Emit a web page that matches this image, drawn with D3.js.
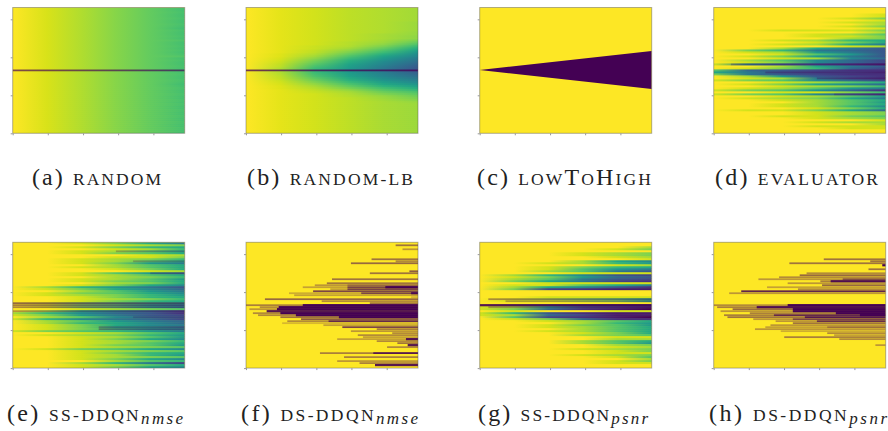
<!DOCTYPE html>
<html lang="en">
<head>
<meta charset="UTF-8">
<script src="https://d3js.org/d3.v7.min.js"></script>
<title>Acquisition policies</title>
<style>
    html, body { margin: 0; padding: 0; background: #fff; }
    svg { display: block; }
    text { font-family: "Liberation Serif", serif; fill: #222; }
</style>
</head>
<body>
<div id="chart"></div>
<script>
// colour level at the columns in columnSteps, 0 dark .. 1 yellow
const columnSteps = [0, 0.2, 0.4, 0.6, 0.8, 1];

// level at the last column of each row of panel a, the earlier columns are in aStart
const aStart = [1, .94, .88, .82, .76];
const aEnd = [
    .70,.70,.71,.70,.70,.71,.70,.70,.71,.70,.69,.71,.70,.70,.71,.70,.72,.70,.70,.71,.70,
    .71,.70,.71,.73,.70,.71,.70,.70,.71,.70,.70,.70,.71,.70,.70,.71,.70,.69,.70,.71,.70,
    .70,.71,.70,.70,.71,.70,.71,.70,.70,.71,.70,.70,.71,.70,.70,.71,.70,.70,.71,.70,.70
];
const aRows = aEnd.map(e => aStart.concat(e));

const bRows = [
    [1,.96,.93,.90,.88,.86],[1,.96,.93,.90,.88,.86],[1,.96,.93,.90,.88,.86],
    [1,.96,.93,.90,.88,.86],[1,.96,.93,.90,.88,.86],[1,.96,.93,.90,.88,.86],
    [1,.96,.93,.90,.88,.86],[1,.96,.93,.90,.88,.85],[1,.96,.93,.90,.88,.85],
    [1,.96,.93,.90,.88,.85],[1,.96,.93,.90,.88,.85],[1,.96,.93,.90,.88,.85],
    [1,.96,.93,.90,.88,.84],[1,.96,.93,.90,.87,.84],[1,.96,.93,.90,.87,.83],
    [1,.96,.93,.90,.87,.83],[1,.96,.93,.90,.86,.80],[1,.96,.93,.89,.85,.76],
    [1,.96,.93,.89,.83,.72],[1,.96,.92,.88,.80,.67],[1,.96,.92,.86,.76,.62],
    [1,.96,.91,.83,.72,.57],[1,.96,.90,.80,.68,.52],[1,.95,.88,.76,.63,.48],
    [1,.95,.86,.72,.58,.45],[1,.94,.83,.68,.54,.41],[1,.93,.80,.64,.50,.38],
    [1,.92,.77,.61,.47,.35],[1,.91,.74,.58,.45,.32],[1,.90,.71,.56,.42,.29],
    [1,.88,.68,.54,.40,.27],[1,.88,.67,.53,.40,.26],[1,.88,.68,.54,.42,.30],
    [1,.89,.70,.56,.44,.33],[1,.90,.72,.58,.46,.36],[1,.91,.75,.61,.49,.40],
    [1,.92,.78,.64,.52,.43],[1,.93,.81,.68,.56,.47],[1,.94,.84,.72,.60,.52],
    [1,.95,.87,.76,.65,.57],[1,.95,.89,.80,.70,.62],[1,.96,.91,.84,.74,.67],
    [1,.96,.92,.87,.78,.72],[1,.96,.93,.88,.81,.75],[1,.96,.93,.89,.84,.78],
    [1,.96,.93,.90,.85,.80],[1,.96,.93,.90,.86,.82],[1,.96,.93,.90,.87,.84],
    [1,.96,.93,.90,.87,.85],[1,.96,.93,.90,.87,.85],[1,.96,.93,.90,.87,.85],
    [1,.96,.93,.90,.87,.85],[1,.96,.93,.90,.87,.85],[1,.96,.93,.90,.87,.85],
    [1,.96,.93,.90,.87,.85],[1,.96,.93,.90,.87,.85],[1,.96,.93,.90,.87,.85],
    [1,.96,.93,.90,.87,.85],[1,.96,.93,.90,.87,.85],[1,.96,.93,.90,.87,.85],
    [1,.96,.93,.90,.87,.85],[1,.96,.93,.90,.87,.85],[1,.96,.93,.90,.87,.85]
];
// strings: one hex digit per column (0 dark .. f yellow)
const dRows = [
    "ffffff","ffffff","ffffff","fffffe","fffffe","ffffec","fffffe","ffffed","fffffd",
    "ffffec","fffffe","ffeeec","fffffd","fffedb","fffeec","ffffdc","ffeda9","fffec9",
    "ffed96","ffffed","ffd964","fca654","fed864","ffeb84","fec864","ffed75","fdb753",
    "fec753","e74321","ffd964","feca53","b54322","964332","c64322","fd8432","fed632",
    "ecb753","ffedb9","fec975","ffedca","fedb86","ecb852","ffeeca","ecb742","ffedb8",
    "fedc96","ffedb9","fffdb8","ffedb9","ffeda7","fffec9","feec95","fffedc","fffedc",
    "ffeecb","fffedc","fffffe","fffedd","fffffd","fffeee","ffffee","ffffff","ffffff"
];
const eRows = [
    "ffec96","fffedc","ffeca9","fffeda","ffedb9","ffecb9","ffffed","fffeec","ffedca",
    "ffedb9","ffec86","fffdb9","ffedb9","fffec9","ffffed","ffeb85","ffedb9","fffdca",
    "ffedb8","ffecb9","fffdc9","ffec97","fda864","fec975","ffdb86","fecb97","fedca8",
    "ffeca9","ffedca","ffeca9","fecba9","fecb97","fecb97","ffedcb","fd9753","da7542",
    "ec8643","fdb754","ea7653","fdb865","fda975","fec976","fec986","feca87","ecba86",
    "ffedb9","fedca8","ffedb8","ffec97","ffedca","ffedb9","ffecb8","ffedcb","fecb97",
    "ffedcb","ffeca9","ffeda8","ffedcb","ffec97","fffdba","ffda63","ffedb9","ffec97"
];
const gRows = [
    "ffffff","ffffff","fffffd","ffffec","ffffff","fffedc","fffedc","ffffed","fffffe",
    "fffd97","ffeda8","ffffed","ffeca9","ffeb86","ffdb64","fffeee","fda743","fec854",
    "fdb643","fc9632","ffeeee","feeb96","fd9742","fc3211","ffffff","ffffff","ffffff",
    "ffeeee","fedcb9","feedc9","ffffff","fdb864","ed8321","ec5210","feffee","ea4211",
    "ed5311","fb3210","fec522","ffedb9","fffda8","ffecb8","ffedb9","fffdb9","ffedb9",
    "fffec9","fffdcb","ffffee","ffffdd","fffdb9","fffdb8","ffffdc","ffffed","fffedc",
    "ffffec","ffffee","fffedc","ffffeb","fffffd","ffffec","ffffee","ffffff","ffffff"
];

// [row, start step, strength] of the dark overlay, runs to the end of the row
const aLines = [[31, 0, 0.68]];
const bLines = [[31, 0, 0.75]];
const dLines = [[28, 0.1, 0.3], [32, 0.3, 0.3], [35, 0.6, 0.3], [43, 0.7, 0.25]];
const eLines = [[30, 0, 0.55], [31, 0, 0.45], [32, 0, 0.4], [34, 0, 0.35], [4, 0.6, 0.25],
    [42, 0.5, 0.3], [43, 0.5, 0.35], [9, 0.7, 0.25], [15, 0.8, 0.25], [37, 0.7, 0.2]];
const gLines = [[28, 0.05, 0.4], [29, 0.15, 0.3], [31, 0, 0.9], [32, 0.05, 0.3]];
const fLines = [
    [1,.87,.5],[3,.91,.35],[8,.73,.5],[10,.61,.55],[9,.87,.4],[14,.95,.6],[15,.72,.5],[18,.5,.5],
    [20,.47,.5],[21,.4,.35],[21,.59,.3],[22,.33,.3],[22,.59,.6],[22,.81,1],[23,.49,.3],[23,.59,.6],
    [24,.39,.7],[25,.25,.25],[25,.67,.6],[25,.96,.9],[26,.28,.3],[27,.96,.2],[28,.11,.55],[29,.44,.4],
    [30,.72,.5],[31,0,.45],[31,.33,1],[32,.08,.4],[32,.19,1],[33,.02,.35],[33,.18,1],[34,.12,.9],
    [35,.04,.4],[35,.2,1],[36,.07,.4],[36,.29,1],[37,.2,.5],[37,.54,1],[38,.32,.6],[39,.24,.4],
    [39,.48,.7],[40,.21,.2],[41,.45,.3],[42,.56,.7],[43,.76,.45],[44,.61,.35],[45,.85,.4],[46,.65,.4],
    [47,.68,.3],[48,.53,.3],[48,.93,.9],[49,.76,.4],[50,.88,.5],[51,.94,.9],[52,.82,.4],[55,.43,.45],
    [55,.74,.8],[57,.57,.45],[59,.53,.35],[60,.66,.45],[61,.75,.9]
];
const hLines = [
    [8,.64,.5],[9,.91,.5],[10,.44,.5],[11,.98,1],[13,.9,.5],[15,.54,.4],[16,.5,.55],[17,.38,.4],
    [18,.26,.35],[18,.75,.5],[19,.62,.45],[19,.68,.9],[20,.43,.35],[21,.63,.55],[22,.31,.3],[23,.49,.4],
    [24,.16,.85],[25,.09,.35],[31,0,.4],[31,.43,1],[32,.02,.45],[32,.25,.9],[33,.11,.55],[33,.46,1],
    [34,.04,.35],[34,.46,1],[35,.21,.45],[35,.71,1],[36,.06,.45],[36,.35,.7],[36,.85,1],[37,.08,.5],
    [37,.53,.8],[38,.23,.35],[38,.46,.55],[39,.36,.35],[39,.6,.7],[40,.46,.5],[41,.33,.35],[42,.3,.3],
    [42,.66,.3],[43,.24,.35],[44,.39,.25],[45,.66,.4],[46,.7,.3],[47,.41,.45],[48,.73,.4],[51,.94,.35]
];

// lowToHigh wedge: row of its edges at the first and last step
const wedgeSteps = [0, 1];
const wedgeTop = [31.3, 21.8];
const wedgeBottom = [31.3, 40.8];

const panelRows = [aRows, bRows, null, dRows, eRows, null, gRows, null];
const panelLines = [aLines, bLines, [], dLines, eLines, fLines, gLines, hLines];

const captionTags = ["(a)", "(b)", "(c)", "(d)", "(e)", "(f)", "(g)", "(h)"];
const captionNames = ["RANDOM", "RANDOM-LB", "LOWTOHIGH", "EVALUATOR", "SS-DDQN", "DS-DDQN", "SS-DDQN", "DS-DDQN"];
const captionSubs = ["", "", "", "", "nmse", "nmse", "psnr", "psnr"];

const xTicks = [0, 0.204, 0.409, 0.613, 0.818];
const yTicks = [0, 0.302, 0.604, 0.906];

const width = 888, height = 431;
const panelLeft = [12.7, 246, 479.7, 713.7];
const panelTop = [7.5, 242.3];
const panelW = 172, panelH = 125.8;
const captionLeft = [32, 247, 477, 715, 7, 241, 478, 709];
const captionRight = [161, 413, 651, 878, 183, 418, 648, 887];
const captionBase = [185, 421];
const rowCount = 63;
const tagSize = 24, capSize = 17.5, subSize = 17;
const thinLine = 1.75; // weak overlays are a bit thinner than a full row

const svg = d3.select("#chart").append("svg")
    .attr("width", width).attr("height", height);
const defs = svg.append("defs");
defs.append("filter").attr("id", "soft")
    .attr("x", "-2%").attr("y", "-2%").attr("width", "104%").attr("height", "104%")
    .attr("color-interpolation-filters", "sRGB")
    .append("feGaussianBlur").attr("stdDeviation", "0.3 0.55");

const x = d3.scaleLinear().domain([0, 1]).range([0, panelW]);
const y = d3.scaleLinear().domain([0, 1]).range([panelH, 0]);
const rowY = d3.scaleLinear().domain([0, rowCount]).range([0, panelH]);
const rowLevels = row => typeof row === "string"
    ? row.split("").map(d => parseInt(d, 16) / 15) : row;
const YELLOW = d3.interpolateViridis(1), PURPLE = d3.interpolateViridis(0);

captionTags.forEach((tag, i) => {
    const col = i % 4, line = Math.floor(i / 4);
    const g = svg.append("g")
        .attr("transform", `translate(${panelLeft[col]},${panelTop[line]})`);

    defs.append("clipPath").attr("id", "clip" + i)
        .append("rect").attr("width", panelW).attr("height", panelH);

    const map = g.append("g").attr("clip-path", `url(#clip${i})`)
        .append("g").attr("filter", "url(#soft)");

    map.append("rect").attr("x", -2).attr("y", -2)
        .attr("width", panelW + 4).attr("height", panelH + 4).attr("fill", YELLOW);

    const rows = panelRows[i];
    if (rows) {
        rows.forEach((row, r) => {
            const grad = defs.append("linearGradient").attr("id", `grad${i}_${r}`)
                .attr("gradientUnits", "userSpaceOnUse")
                .attr("x1", x(0)).attr("x2", x(1)).attr("y1", 0).attr("y2", 0);
            grad.selectAll("stop").data(rowLevels(row)).join("stop")
                .attr("offset", (d, c) => columnSteps[c])
                .attr("stop-color", d => d3.interpolateViridis(d));
        });
        map.selectAll("rect.row").data(rows).join("rect")
            .attr("class", "row")
            .attr("x", x(0)).attr("y", (d, r) => rowY(r))
            .attr("width", panelW).attr("height", rowY(1) + 0.6)
            .attr("fill", (d, r) => `url(#grad${i}_${r})`);
    }

    if (i === 2) {
        const wedge = d3.area()
            .x((d, k) => x(wedgeSteps[k]))
            .y0((d, k) => rowY(wedgeTop[k]))
            .y1((d, k) => rowY(wedgeBottom[k]));
        map.append("path").datum(wedgeSteps).attr("d", wedge).attr("fill", PURPLE);
    }

    const lineH = d => d[2] >= 0.9 ? rowY(1) + 0.2 : thinLine;
    map.selectAll("rect.line").data(panelLines[i]).join("rect")
        .attr("class", "line")
        .attr("x", d => x(d[1]))
        .attr("y", d => rowY(d[0]) + (rowY(1) - lineH(d)) / 2)
        .attr("width", d => x(1) - x(d[1])).attr("height", lineH)
        .attr("fill", PURPLE).attr("fill-opacity", d => d[2]);

    g.append("rect").attr("width", panelW).attr("height", panelH)
        .attr("fill", "none").attr("stroke", "#555").attr("stroke-opacity", 0.45);

    const xAxis = g.append("g").attr("transform", `translate(0,${panelH})`)
        .call(d3.axisBottom(x).tickValues(xTicks).tickSize(2).tickFormat(""));
    const yAxis = g.append("g")
        .call(d3.axisLeft(y).tickValues(yTicks).tickSize(2).tickFormat(""));
    [xAxis, yAxis].forEach(a => {
        a.select(".domain").remove();
        a.selectAll("line").attr("stroke", "#999");
    });

    // caption, small caps written out as smaller capitals
    const text = svg.append("text")
        .attr("x", captionLeft[i]).attr("y", captionBase[line])
        .attr("font-size", tagSize)
        .attr("textLength", captionRight[i] - captionLeft[i])
        .attr("lengthAdjust", "spacing");
    text.append("tspan").text(tag + " ");
    if (captionNames[i] === "LOWTOHIGH") {
        [["LOW", capSize], ["T", tagSize], ["O", capSize], ["H", tagSize], ["IGH", capSize]].forEach(p => {
            text.append("tspan").attr("font-size", p[1]).text(p[0]);
        });
    } else {
        text.append("tspan").attr("font-size", capSize).text(captionNames[i]);
    }
    if (captionSubs[i]) {
        text.append("tspan").attr("font-size", subSize).attr("font-style", "italic")
            .attr("dy", 3).text(captionSubs[i]);
    }
});
</script>
</body>
</html>
